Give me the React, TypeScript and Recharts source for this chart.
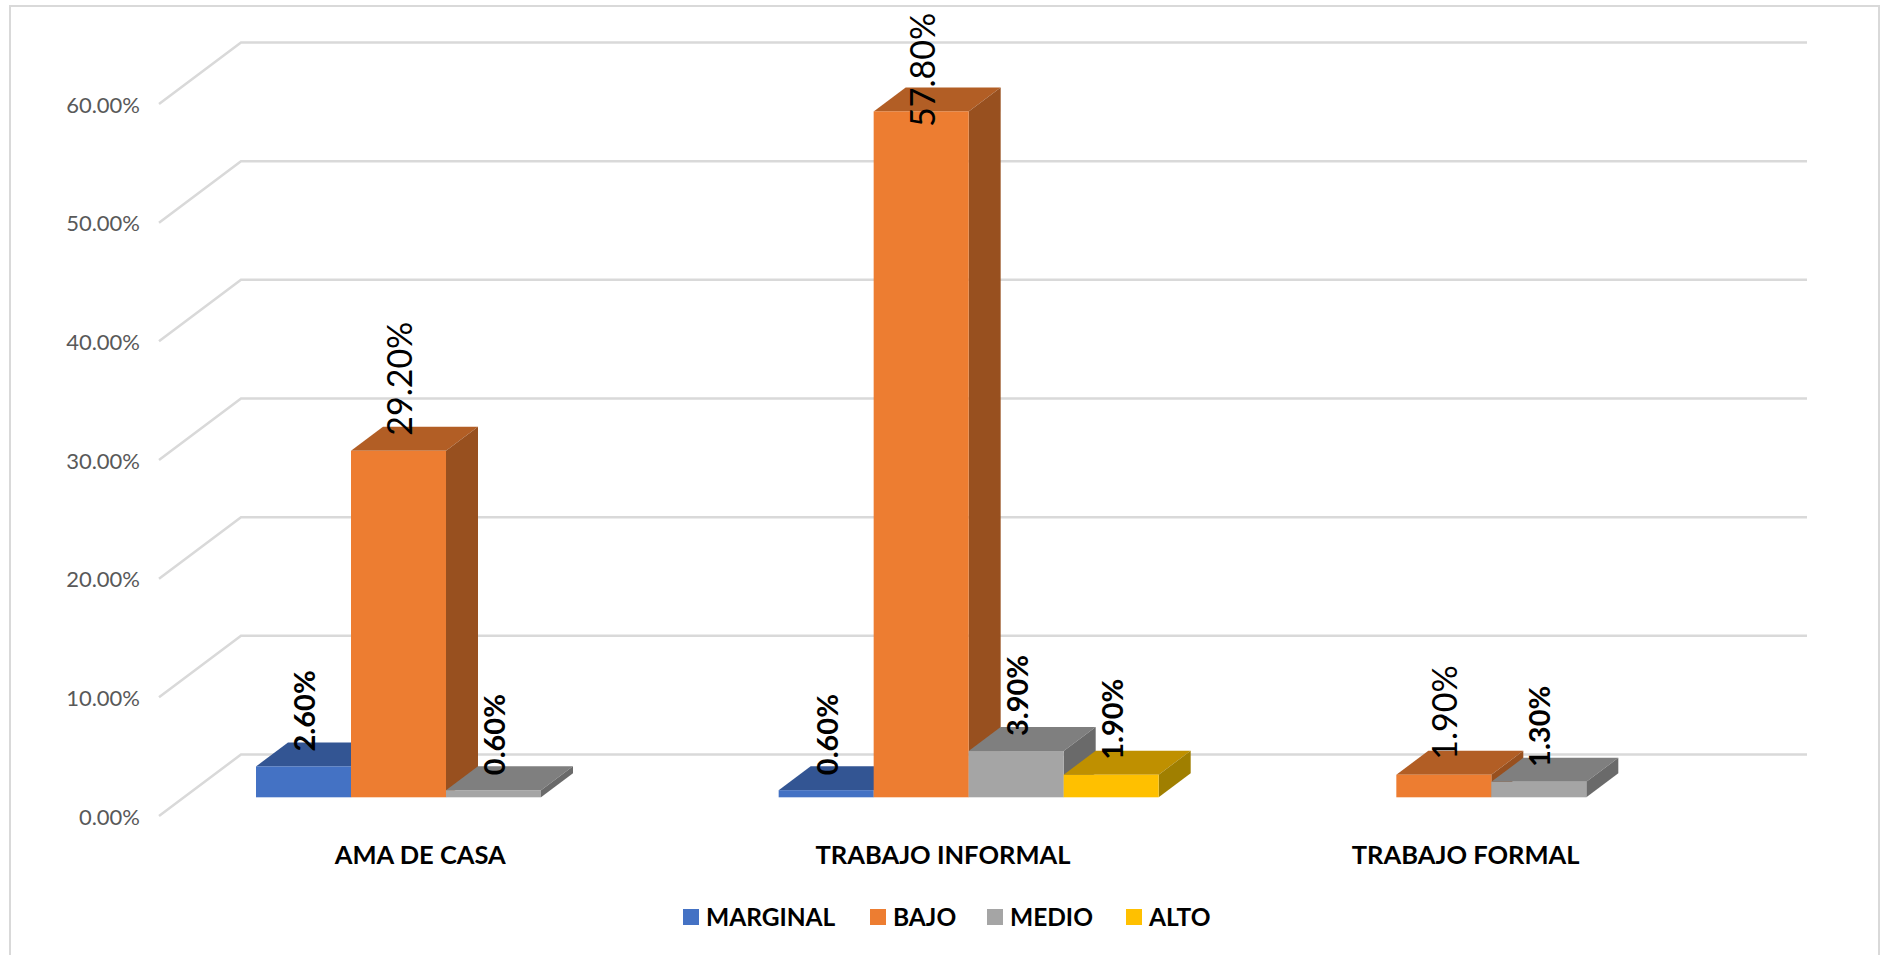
import { BarChart, Bar, XAxis, YAxis, CartesianGrid, Legend, LabelList } from 'recharts'

const CATEGORIES = ['AMA DE CASA', 'TRABAJO INFORMAL', 'TRABAJO FORMAL']
const MARGINAL = [2.6, 0.6, null]
const BAJO = [29.2, 57.8, 1.9]
const MEDIO = [0.6, 3.9, 1.3]
const ALTO = [null, 1.9, null]
const Y_TICKS = [0, 10, 20, 30, 40, 50, 60]

const chartData = CATEGORIES.map((name, i) => ({
  name,
  MARGINAL: MARGINAL[i],
  BAJO: BAJO[i],
  MEDIO: MEDIO[i],
  ALTO: ALTO[i],
}))

const FONT = 'Lato, sans-serif'

// the 3d look: bars stand a bit inside the floor, floor runs back to the wall
const BAR_DX = 26
const BAR_DY = 18.7
const DEPTH_X = 32
const DEPTH_Y = 24
const WALL_X = 82
const WALL_Y = 61.5

const LEGEND_X = [683, 870, 987, 1126]

function Bar3D(props: any) {
  const { y, width, height, fill, topColor, sideColor } = props
  if (!height || height <= 0) return null
  const x = props.x + BAR_DX
  const top = y - BAR_DY
  const bottom = top + height
  const right = x + width
  return (
    <g>
      <polygon
        points={`${x},${top} ${x + DEPTH_X},${top - DEPTH_Y} ${right + DEPTH_X},${top - DEPTH_Y} ${right},${top}`}
        fill={topColor}
      />
      <polygon
        points={`${right},${top} ${right + DEPTH_X},${top - DEPTH_Y} ${right + DEPTH_X},${bottom - DEPTH_Y} ${right},${bottom}`}
        fill={sideColor}
      />
      <rect x={x} y={top} width={width} height={height} fill={fill} />
    </g>
  )
}

function WallLine(props: any) {
  const { x1, x2, y1 } = props
  return (
    <polyline
      points={`${x1},${y1} ${x1 + WALL_X},${y1 - WALL_Y} ${x2 + WALL_X - 2},${y1 - WALL_Y}`}
      fill="none"
      stroke="#D9D9D9"
      strokeWidth={2.5}
    />
  )
}

function makeLabel(big: boolean) {
  return function BarLabel(props: any) {
    const { value, x, y, width } = props
    if (value === null || value === undefined) return null
    const cx = x + BAR_DX + width / 2
    const top = y - BAR_DY
    // tallest bar: label gets pushed down so it stays inside the chart
    const start = Math.max(top - 15, 127)
    return (
      <text
        x={cx}
        y={start}
        transform={`rotate(-90 ${cx} ${start})`}
        dominantBaseline="central"
        fontFamily={FONT}
        fontSize={big ? 34 : 29}
        fontWeight={big ? 400 : 700}
        fill="#000"
      >
        {value.toFixed(2)}%
      </text>
    )
  }
}

function LegendBox({ payload }: any) {
  return (
    <div style={{ position: 'relative', height: 0 }}>
      {(payload || []).map((item: any, i: number) => (
        <div key={item.value} style={{ position: 'absolute', left: LEGEND_X[i], top: 0, whiteSpace: 'nowrap' }}>
          <span style={{ position: 'absolute', left: 0, top: 909, width: 16, height: 16, background: item.color }} />
          <span
            style={{
              position: 'absolute',
              left: 23,
              top: 901,
              lineHeight: '32px',
              fontFamily: FONT,
              fontWeight: 700,
              fontSize: 24.5,
              color: '#000',
            }}
          >
            {item.value}
          </span>
        </div>
      ))}
    </div>
  )
}

export default function App() {
  return (
    <div style={{ position: 'absolute', left: 0, top: 0, width: 1887, height: 955, background: '#fff' }}>
      <div
        style={{
          position: 'absolute',
          left: 9,
          top: 5,
          width: 1871,
          height: 950,
          borderLeft: '2px solid #D9D9D9',
          borderRight: '2px solid #D9D9D9',
          borderTop: '2px solid #D9D9D9',
          boxSizing: 'border-box',
        }}
      />
      <div style={{ position: 'absolute', left: 0, top: 0 }}>
        <BarChart
          width={1887}
          height={955}
          data={chartData}
          barSize={95}
          barGap={0}
          margin={{ top: 104, left: 59, right: 160, bottom: 39 }}
        >
          <CartesianGrid horizontal={WallLine} vertical={false} />
          <XAxis
            dataKey="name"
            height={100}
            axisLine={false}
            tickLine={false}
            tickMargin={24}
            tick={{ fill: '#000', fontSize: 25.5, fontWeight: 700, fontFamily: FONT }}
          />
          <YAxis
            width={100}
            domain={[0, 60]}
            ticks={Y_TICKS}
            axisLine={false}
            tickLine={false}
            tickMargin={13}
            tickFormatter={(v: number) => `${v.toFixed(2)}%`}
            tick={{ fill: '#595959', fontSize: 22, fontFamily: FONT, dy: 1 }}
          />
          <Legend content={<LegendBox />} itemSorter={null} wrapperStyle={{ left: 0, top: 0, width: 1887, height: 0 }} />
          <Bar
            dataKey="MARGINAL"
            fill="#4472C4"
            isAnimationActive={false}
            shape={(p: any) => <Bar3D {...p} topColor="#335593" sideColor="#2C4A80" />}
          >
            <LabelList dataKey="MARGINAL" content={makeLabel(false)} />
          </Bar>
          <Bar
            dataKey="BAJO"
            fill="#ED7D31"
            isAnimationActive={false}
            shape={(p: any) => <Bar3D {...p} topColor="#B25E25" sideColor="#98501F" />}
          >
            <LabelList dataKey="BAJO" content={makeLabel(true)} />
          </Bar>
          <Bar
            dataKey="MEDIO"
            fill="#A5A5A5"
            isAnimationActive={false}
            shape={(p: any) => <Bar3D {...p} topColor="#7F7F7F" sideColor="#6A6A6A" />}
          >
            <LabelList dataKey="MEDIO" content={makeLabel(false)} />
          </Bar>
          <Bar
            dataKey="ALTO"
            fill="#FFC000"
            isAnimationActive={false}
            shape={(p: any) => <Bar3D {...p} topColor="#BF9000" sideColor="#A07F00" />}
          >
            <LabelList dataKey="ALTO" content={makeLabel(false)} />
          </Bar>
        </BarChart>
      </div>
    </div>
  )
}
